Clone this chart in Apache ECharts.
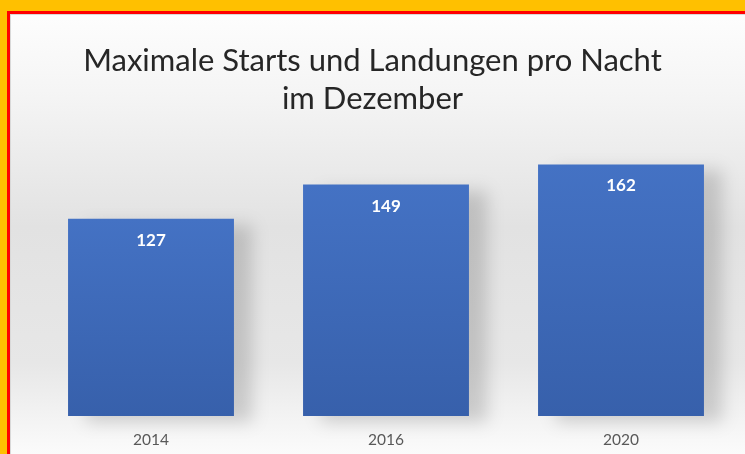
<!DOCTYPE html>
<html>
<head>
<meta charset="utf-8">
<script src="https://cdn.jsdelivr.net/npm/echarts@6/dist/echarts.min.js"></script>
<style>
  html, body { margin: 0; padding: 0; background: #fff; }
  #chart { width: 745px; height: 454px; }
</style>
</head>
<body>
<div id="chart"></div>
<script>
const years = ['2014', '2016', '2020'];
const maxMovements = [127, 149, 162];
const titleLines = ['Maximale Starts und Landungen pro Nacht', 'im Dezember'];

const chart = echarts.init(document.getElementById('chart'));

const option = {
  animation: false,
  backgroundColor: {
    type: 'linear', x: 0, y: 0, x2: 0, y2: 1,
    colorStops: [
      { offset: 0, color: '#ffffff' },
      { offset: 0.2, color: '#f5f5f5' },
      { offset: 0.5, color: '#e2e2e2' },
      { offset: 0.8, color: '#e7e7e7' },
      { offset: 1, color: '#fbfbfb' },
    ],
  },
  title: {
    text: titleLines.join('\n'),
    left: 'center',
    top: 37,
    textStyle: {
      fontFamily: 'Lato',
      fontWeight: 'normal',
      fontSize: 31,
      lineHeight: 38,
      color: '#262626',
    },
  },
  grid: {
    left: 33.5,
    right: 6.5,
    top: 105.4,
    bottom: 38,
  },
  xAxis: {
    type: 'category',
    data: years,
    axisLine: { show: false },
    axisTick: { show: false },
    axisLabel: {
      color: '#595959',
      fontFamily: 'Lato',
      fontSize: 15.5,
      margin: 16,
    },
  },
  yAxis: {
    type: 'value',
    min: 0,
    max: 200,
    show: false,
    splitLine: { show: false },
  },
  series: [
    {
      type: 'bar',
      data: maxMovements,
      barCategoryGap: '29.4%',
      itemStyle: {
        color: {
          type: 'linear', x: 0, y: 0, x2: 0, y2: 1,
          colorStops: [
            { offset: 0, color: '#4472c4' },
            { offset: 1, color: '#3760ab' },
          ],
        },
        shadowColor: 'rgba(0,0,0,0.16)',
        shadowBlur: 16,
        shadowOffsetX: 18,
        shadowOffsetY: 6,
      },
      label: {
        show: true,
        position: 'insideTop',
        distance: 13,
        color: '#ffffff',
        fontFamily: 'Lato',
        fontWeight: 'bold',
        fontSize: 17,
      },
    },
  ],
  graphic: [
    { type: 'rect', shape: { x: 0, y: 0, width: 745, height: 11 }, style: { fill: '#ffc000' }, z: 100 },
    { type: 'rect', shape: { x: 0, y: 0, width: 7, height: 454 }, style: { fill: '#ffc000' }, z: 100 },
    { type: 'rect', shape: { x: 7, y: 11, width: 738, height: 3 }, style: { fill: '#ff0000' }, z: 101 },
    { type: 'rect', shape: { x: 7, y: 11, width: 3, height: 443 }, style: { fill: '#ff0000' }, z: 101 },
    { type: 'rect', shape: { x: 10, y: 14, width: 735, height: 1 }, style: { fill: '#d9d9d9' }, z: 101 },
    { type: 'rect', shape: { x: 10, y: 14, width: 1, height: 440 }, style: { fill: '#d9d9d9' }, z: 101 },
  ],
};

chart.setOption(option);
window.addEventListener('resize', () => chart.resize());
</script>
</body>
</html>
